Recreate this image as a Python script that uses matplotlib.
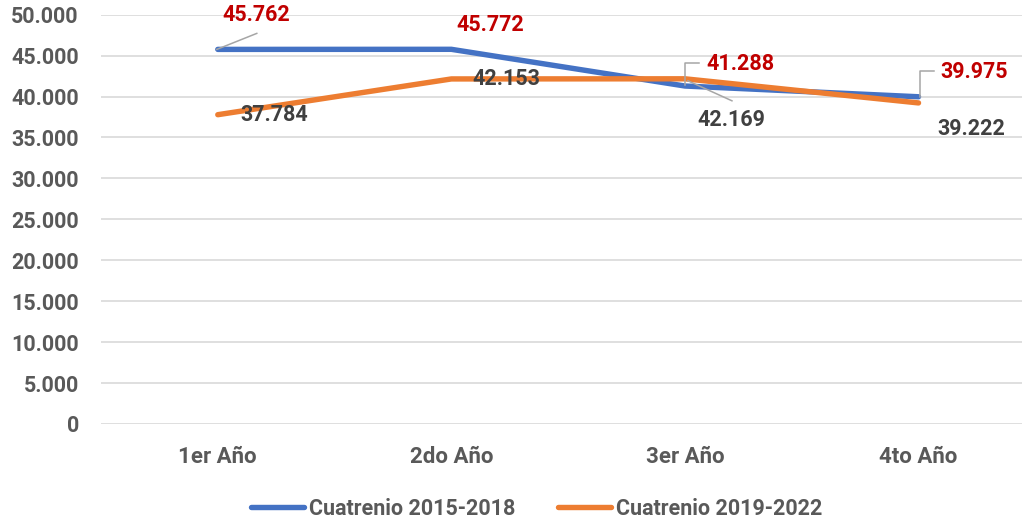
import matplotlib
matplotlib.use("Agg")
import matplotlib.pyplot as plt
from matplotlib.transforms import IdentityTransform
from matplotlib.ticker import FuncFormatter

categories = ["1er Año", "2do Año", "3er Año", "4to Año"]
serie_2015 = [45762, 45772, 41288, 39975]
serie_2019 = [37784, 42153, 42169, 39222]
labels_2015 = ["45.762", "45.772", "41.288", "39.975"]
labels_2019 = ["37.784", "42.153", "42.169", "39.222"]
legend_names = ["Cuatrenio 2015-2018", "Cuatrenio 2019-2022"]

BLUE = "#4472C4"
ORANGE = "#ED7D31"
RED = "#C00000"
DARK = "#404040"
AXIS = "#595959"
GRID = "#D9D9D9"
LEADER = "#A6A6A6"

plt.rcParams['font.family'] = ['Roboto', 'DejaVu Sans']

W, H = 1022, 522
fig = plt.figure(figsize=(W / 100, H / 100), dpi=100)
ax_left, ax_right = 101, 1022
ax_top, ax_bottom = 14.7, 424.0
ax = fig.add_axes([ax_left / W, (H - ax_bottom) / H,
                   (ax_right - ax_left) / W, (ax_bottom - ax_top) / H])

x = list(range(len(categories)))
ax.set_xlim(-0.5, 3.443)
ax.set_ylim(0, 50000)
ax.set_yticks(range(0, 50001, 5000))
ax.yaxis.set_major_formatter(FuncFormatter(lambda v, p: f"{int(v):,}".replace(",", ".")))
ax.set_xticks(x)
ax.set_xticklabels(categories)
ax.grid(axis='y', color=GRID, linewidth=1.2)
ax.set_axisbelow(True)
for s in ax.spines.values():
    s.set_visible(False)
ax.tick_params(axis='both', length=0, colors=AXIS)
ax.tick_params(axis='y', pad=16, labelsize=15.5)
ax.tick_params(axis='x', pad=16, labelsize=16)
for t in ax.get_yticklabels() + ax.get_xticklabels():
    t.set_fontweight('bold')

l1, = ax.plot(x, serie_2015, color=BLUE, linewidth=3.9, solid_capstyle='round',
              solid_joinstyle='round', label=legend_names[0], zorder=3)
l2, = ax.plot(x, serie_2019, color=ORANGE, linewidth=3.9, solid_capstyle='round',
              solid_joinstyle='round', label=legend_names[1], zorder=4)

# label offsets in image pixels (dx right, dy down) from each point
off_2015 = [(38, -34), (38.5, -24.5), (55.5, -22), (56, -25)]
off_2019 = [(56, 0), (55, 0.5), (46, 41), (53, 26)]
leaders_2015 = {
    0: [(-1, 0), (39, -16)],
    2: [(0, -1), (0, -23), (14, -23)],
    3: [(1, 0), (1, -26), (15, -26)],
}
leaders_2019 = {
    2: [(3, 2), (47, 22)],
}

def to_disp(xi, yi):
    return ax.transData.transform((xi, yi))

for vals, labs, offs, leads, col in [
        (serie_2015, labels_2015, off_2015, leaders_2015, RED),
        (serie_2019, labels_2019, off_2019, leaders_2019, DARK)]:
    for i, (v, lab, (dx, dy)) in enumerate(zip(vals, labs, offs)):
        ax.annotate(lab, xy=(i, v), xytext=(dx, -dy), textcoords='offset pixels',
                    ha='center', va='center', fontsize=15.5, fontweight='bold',
                    color=col, zorder=6)
        if i in leads:
            px, py = to_disp(i, v)
            xs = [px + a for a, b in leads[i]]
            ys = [py - b for a, b in leads[i]]
            fig.lines.append(plt.Line2D(xs, ys, transform=IdentityTransform(),
                                        color=LEADER, linewidth=1.1, zorder=5))

leg = fig.legend(handles=[l1, l2], loc='center', bbox_to_anchor=(536.5 / W, (H - 509) / H),
                 ncol=2, frameon=False, handlelength=2.45,
                 handletextpad=0.22, columnspacing=2.0,
                 prop={'weight': 'bold', 'size': 15.5})
for t in leg.get_texts():
    t.set_color(AXIS)
for h in leg.get_lines():
    h.set_linewidth(3.9)
    h.set_solid_capstyle('round')

fig.savefig("out.png", dpi=100)
